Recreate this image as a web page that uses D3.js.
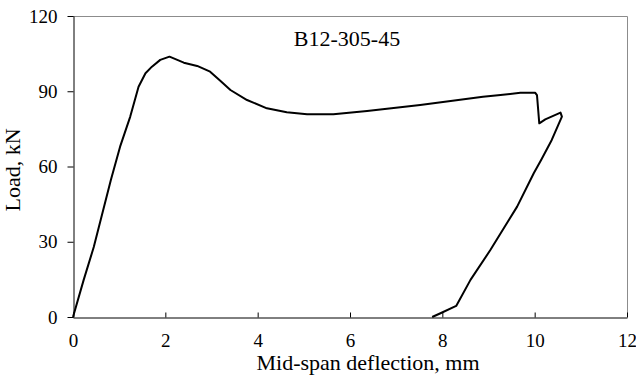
<html>
<head>
<script src="https://cdn.jsdelivr.net/npm/d3@7"></script>
<style>
	body { margin: 0; background: white; }
	.chart text { font-family: "Liberation Serif", "Times New Roman", serif; fill: black; }
</style>
</head>
<body>
<svg class="chart"></svg>
<script>
	// load-deflection curve
	deflection = [0, 0.23, 0.45, 0.82, 1.02, 1.24, 1.42, 1.57, 1.71, 1.89, 2.09, 2.22, 2.40, 2.69, 2.97, 3.19, 3.41, 3.77, 4.20, 4.63, 5.07, 5.64, 6.37, 7.52, 8.88, 9.26, 9.69, 10.01, 10.05, 10.10, 10.23, 10.56, 10.59, 10.37, 10.14, 9.98, 9.62, 9.04, 8.61, 8.30, 7.96, 7.78];
	load = [0, 14.7, 27.9, 54.6, 67.9, 79.9, 91.8, 97.2, 99.8, 102.5, 103.8, 102.8, 101.4, 100.1, 97.8, 94.2, 90.5, 86.5, 83.2, 81.6, 80.8, 80.8, 82.1, 84.5, 87.8, 88.5, 89.4, 89.4, 88.5, 77.2, 78.8, 81.5, 79.9, 70.6, 62.6, 57.3, 44.0, 26.7, 14.8, 4.4, 1.5, 0];

	xTicks = [0, 2, 4, 6, 8, 10, 12];
	yTicks = [0, 30, 60, 90, 120];
	specimen = "B12-305-45";
	xTitle = "Mid-span deflection, mm";
	yTitle = "Load, kN";

	var width = 636;
	var height = 376;
	// plot box (note: "top" is taken by window.top, so use other names)
	var plotLeft = 73, plotRight = 627, plotTop = 16, plotBottom = 317;

	x = d3.scaleLinear().domain([0, 12]).range([plotLeft, plotRight]);
	y = d3.scaleLinear().domain([0, 120]).range([plotBottom, plotTop]);

	chart = d3.select(".chart")
		.attr("width", width)
		.attr("height", height);

	// grey frame on top and right
	chart.append("path")
		.attr("d", "M" + plotLeft + "," + (plotTop + 0.5) + "H" + (plotRight + 0.5) + "V" + plotBottom)
		.attr("fill", "none")
		.attr("stroke", "#8c8c8c")
		.attr("stroke-width", 1);

	yAxis = chart.append("g")
		.attr("transform", "translate(" + (plotLeft + 0.5) + ",0)")
		.call(d3.axisLeft(y)
			.tickValues(yTicks)
			.tickSizeInner(6)
			.tickSizeOuter(0)
			.tickPadding(10));

	xAxis = chart.append("g")
		.attr("transform", "translate(0," + (plotBottom + 0.5) + ")")
		.call(d3.axisBottom(x)
			.tickValues(xTicks)
			.tickSizeInner(-5)
			.tickSizeOuter(0)
			.tickPadding(16));

	chart.selectAll(".domain, .tick line").attr("stroke", "black");
	chart.selectAll(".tick text")
		.attr("font-size", "19px")
		.style("font-family", "'Liberation Serif', serif");

	line = d3.line()
		.x(function(d, i) { return x(deflection[i]); })
		.y(function(d, i) { return y(load[i]); });

	chart.append("path")
		.datum(load)
		.attr("d", line)
		.attr("fill", "none")
		.attr("stroke", "black")
		.attr("stroke-width", 2)
		.attr("stroke-linejoin", "round");

	chart.append("text")
		.attr("x", 347)
		.attr("y", 46)
		.attr("text-anchor", "middle")
		.attr("font-size", "22px")
		.text(specimen);

	chart.append("text")
		.attr("x", 368)
		.attr("y", 370)
		.attr("text-anchor", "middle")
		.attr("font-size", "22px")
		.text(xTitle);

	chart.append("g")
		.attr("transform", "translate(20,170) rotate(-90)")
		.append("text")
			.attr("text-anchor", "middle")
			.attr("font-size", "22px")
			.text(yTitle);
</script>
</body>
</html>
